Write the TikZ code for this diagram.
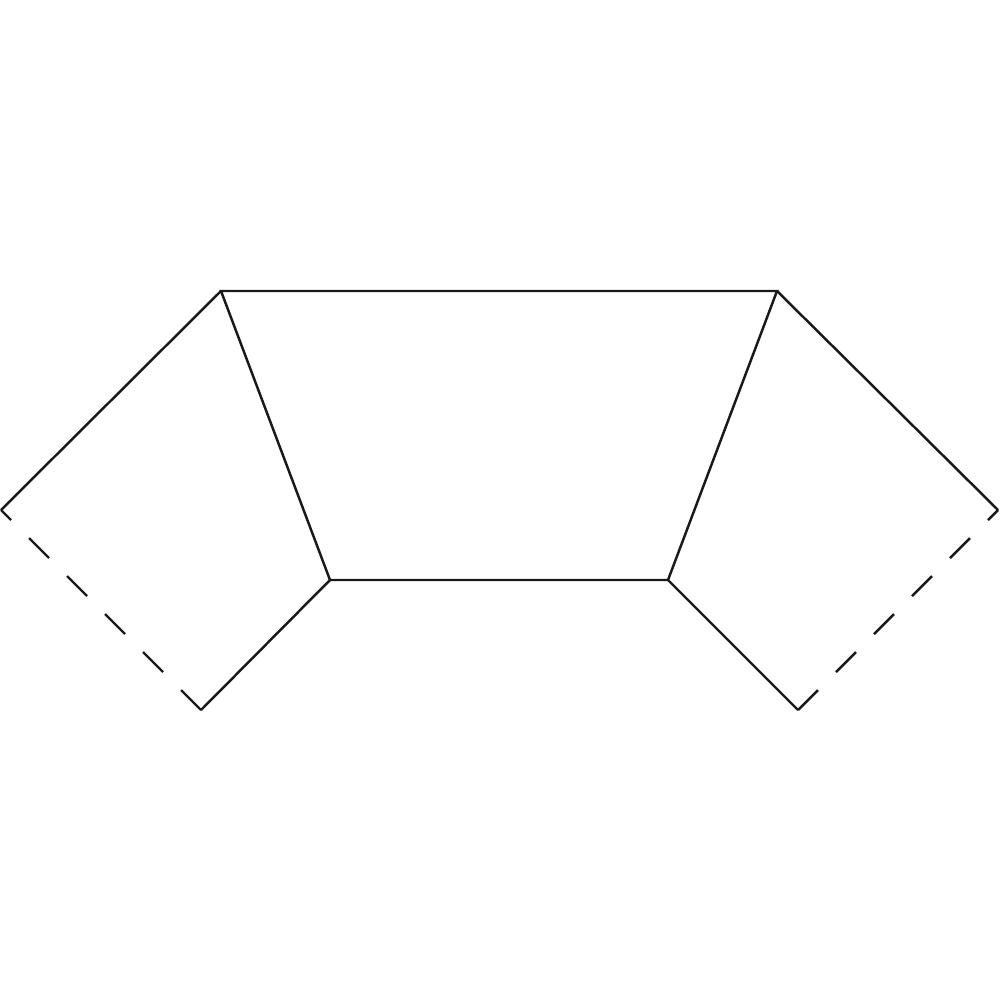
\documentclass[tikz,border=0pt]{standalone}
\begin{document}
\begin{tikzpicture}[x=0.01cm,y=-0.01cm,
  edge/.style={line width=0.7pt,line join=miter,black!90},
  hidden/.style={edge,dash pattern=on 0.2828cm off 0.2546cm,dash phase=0.1414cm}]
\useasboundingbox (0,0) rectangle (1000,1000);
\coordinate (TL) at (221,291);
\coordinate (TR) at (777,291);
\coordinate (BL) at (330,580);
\coordinate (BR) at (668,580);
\coordinate (LO) at (1,510);
\coordinate (LB) at (201,710);
\coordinate (RO) at (998,510);
\coordinate (RB) at (798,710);
\draw[edge] (TL) -- (TR) -- (BR) -- (BL) -- cycle;
\draw[edge] (LB) -- (BL);
\draw[edge] (TL) -- (LO);
\draw[edge] (RB) -- (BR);
\draw[edge] (TR) -- (RO);
\draw[hidden] (LO) -- (LB);
\draw[hidden] (RO) -- (RB);
\end{tikzpicture}
\end{document}
